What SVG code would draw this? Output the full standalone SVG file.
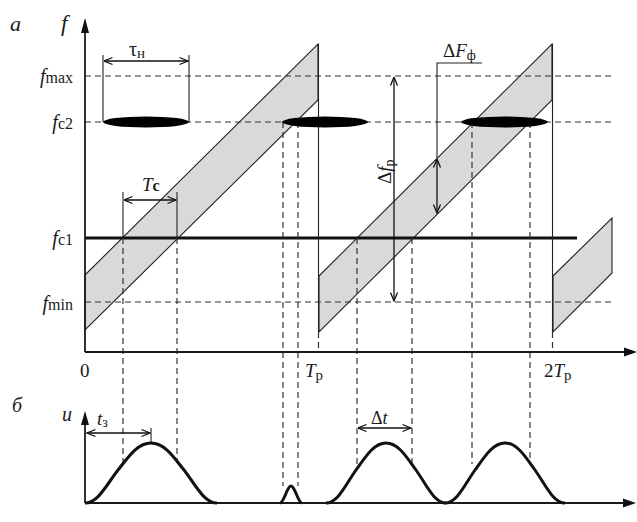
<svg xmlns="http://www.w3.org/2000/svg" width="637" height="522" viewBox="0 0 637 522">
<style>
text{font-family:"Liberation Serif","Times New Roman",serif;fill:#1a1a1a}
.it{font-style:italic}
.ax{stroke:#1a1a1a;stroke-width:1.8;fill:none}
.dash{stroke:#333;stroke-width:1.2;stroke-dasharray:6,4;fill:none}
.thin{stroke:#222;stroke-width:1.1;fill:none}
.band{fill:#d9d9d9;stroke:#222;stroke-width:1.1}
.pulse{fill:none;stroke:#111;stroke-width:3;stroke-linejoin:round}
.arr{stroke:#111;stroke-width:1.3;fill:none;marker-start:url(#oa);marker-end:url(#oa)}
</style>
<defs>
<marker id="oa" viewBox="0 0 10 10" refX="9.5" refY="5" markerWidth="10" markerHeight="10" markerUnits="userSpaceOnUse" orient="auto-start-reverse">
<path d="M1,1.5 L9.5,5 L1,8.5" fill="none" stroke="#111" stroke-width="1.3"/>
</marker>
<path id="pl" d="M-60,0 C-48,0 -40,-19 -30,-33 C-20,-47 -12,-60 0,-60 C12,-60 20,-47 30,-33 C40,-19 48,0 60,0"/>
</defs>

<g id="bands">
<polygon class="band" points="85,275 318,44 318,100 85,330"/>
<polygon class="band" points="319,276 552,44 552,100 319,332"/>
<polygon class="band" points="553,276 612,218 612,273 553,332"/>
</g>

<g id="grid">
<line class="dash" x1="85" y1="76" x2="614" y2="76"/>
<line class="dash" x1="85" y1="122" x2="614" y2="122"/>
<line class="dash" x1="85" y1="302" x2="614" y2="302"/>
<line x1="85" y1="238" x2="577" y2="238" stroke="#111" stroke-width="3"/>
</g>

<g id="connectors">
<line class="thin" x1="318.5" y1="44" x2="318.5" y2="332"/>
<line class="thin" x1="552.5" y1="44" x2="552.5" y2="332"/>
<line class="dash" x1="318.5" y1="332" x2="318.5" y2="352"/>
<line class="dash" x1="552.5" y1="332" x2="552.5" y2="352"/>
<line class="thin" x1="103" y1="55" x2="103" y2="122"/>
<line class="thin" x1="189" y1="55" x2="189" y2="122"/>
<line class="arr" x1="104" y1="61" x2="188" y2="61"/>
<line class="thin" x1="123" y1="192" x2="123" y2="238"/>
<line class="thin" x1="177" y1="192" x2="177" y2="238"/>
<line class="arr" x1="124" y1="200" x2="176" y2="200"/>
<line class="dash" x1="123" y1="238" x2="123" y2="465"/>
<line class="dash" x1="177" y1="238" x2="177" y2="463"/>
<line class="dash" x1="283" y1="122" x2="283" y2="486"/>
<line class="dash" x1="298" y1="122" x2="298" y2="486"/>
<line class="dash" x1="357" y1="238" x2="357" y2="465"/>
<line class="dash" x1="412" y1="238" x2="412" y2="465"/>
<line class="dash" x1="472" y1="122" x2="472" y2="464"/>
<line class="dash" x1="530" y1="122" x2="530" y2="464"/>
<line class="arr" x1="394" y1="77" x2="394" y2="301"/>
<polyline class="thin" points="482,63 437,63 437,158" stroke-width="1.5"/>
<line class="arr" x1="437" y1="159" x2="437" y2="213"/>
<line x1="87" y1="433" x2="150" y2="433" stroke="#111" stroke-width="1.3" marker-end="url(#oa)"/>
<path d="M95.5,429.5 L87,433 L95.5,436.5" fill="none" stroke="#111" stroke-width="1.3"/>
<line class="thin" x1="151" y1="428" x2="151" y2="443"/>
<line class="arr" x1="358" y1="428" x2="411" y2="428"/>
</g>

<g id="ellipses">
<ellipse cx="146" cy="122" rx="43" ry="5.5" fill="#000"/>
<ellipse cx="325" cy="122" rx="43" ry="5.5" fill="#000"/>
<ellipse cx="504.5" cy="122" rx="43.5" ry="5.5" fill="#000"/>
</g>

<g id="axes">
<line class="ax" x1="85" y1="30" x2="85" y2="352"/>
<polygon points="85,18 81,33 89,33" fill="#111"/>
<line class="ax" x1="85" y1="352" x2="628" y2="352"/>
<polygon points="637,352 624,347.5 624,356.5" fill="#111"/>
<line class="ax" x1="85" y1="423" x2="85" y2="503"/>
<polygon points="85,411 81,425 89,425" fill="#111"/>
<line class="ax" x1="85" y1="503" x2="626" y2="503"/>
<polygon points="636,503 623,498.5 623,507.5" fill="#111"/>
</g>

<g id="pulses">
<use href="#pl" class="pulse" transform="translate(151,503) scale(1.1,1)"/>
<path class="pulse" d="M280,503 C284,503 287,486 291,486 C295,486 298,503 302,503"/>
<use href="#pl" class="pulse" transform="translate(386,503)"/>
<use href="#pl" class="pulse" transform="translate(505,503)"/>
</g>

<g id="labels">
<text x="10" y="31" font-size="22" class="it">а</text>
<text x="61" y="31" font-size="23" class="it">f</text>
<text x="73" y="83" text-anchor="end" font-size="20"><tspan class="it">f</tspan><tspan font-size="16">max</tspan></text>
<text x="73" y="129" text-anchor="end" font-size="20"><tspan class="it">f</tspan><tspan font-size="16">c2</tspan></text>
<text x="73" y="245" text-anchor="end" font-size="20"><tspan class="it">f</tspan><tspan font-size="16">c1</tspan></text>
<text x="73" y="310" text-anchor="end" font-size="20"><tspan class="it">f</tspan><tspan font-size="16">min</tspan></text>
<text x="129" y="56" font-size="20">τ<tspan font-size="15" dy="2">н</tspan></text>
<text x="142" y="191" font-size="19"><tspan class="it">T</tspan><tspan font-size="16" font-weight="bold">c</tspan></text>
<text transform="translate(391,184) rotate(-90)" font-size="19">Δ<tspan class="it">f</tspan><tspan font-size="14" dy="3">р</tspan></text>
<text x="443" y="57" font-size="19">Δ<tspan class="it">F</tspan><tspan font-size="14" dy="3">ф</tspan></text>
<text x="80" y="377" font-size="19">0</text>
<text x="305" y="377" font-size="19"><tspan class="it">T</tspan><tspan font-size="15" dy="3">р</tspan></text>
<text x="544" y="377" font-size="19">2<tspan class="it">T</tspan><tspan font-size="15" dy="3">р</tspan></text>
<text x="12" y="412" font-size="20" class="it">б</text>
<text x="62" y="421" font-size="20" class="it">u</text>
<text x="97" y="425" font-size="19"><tspan class="it">t</tspan><tspan font-size="14" dy="2">з</tspan></text>
<text x="371" y="424" font-size="18">Δ<tspan class="it">t</tspan></text>
</g>
</svg>
